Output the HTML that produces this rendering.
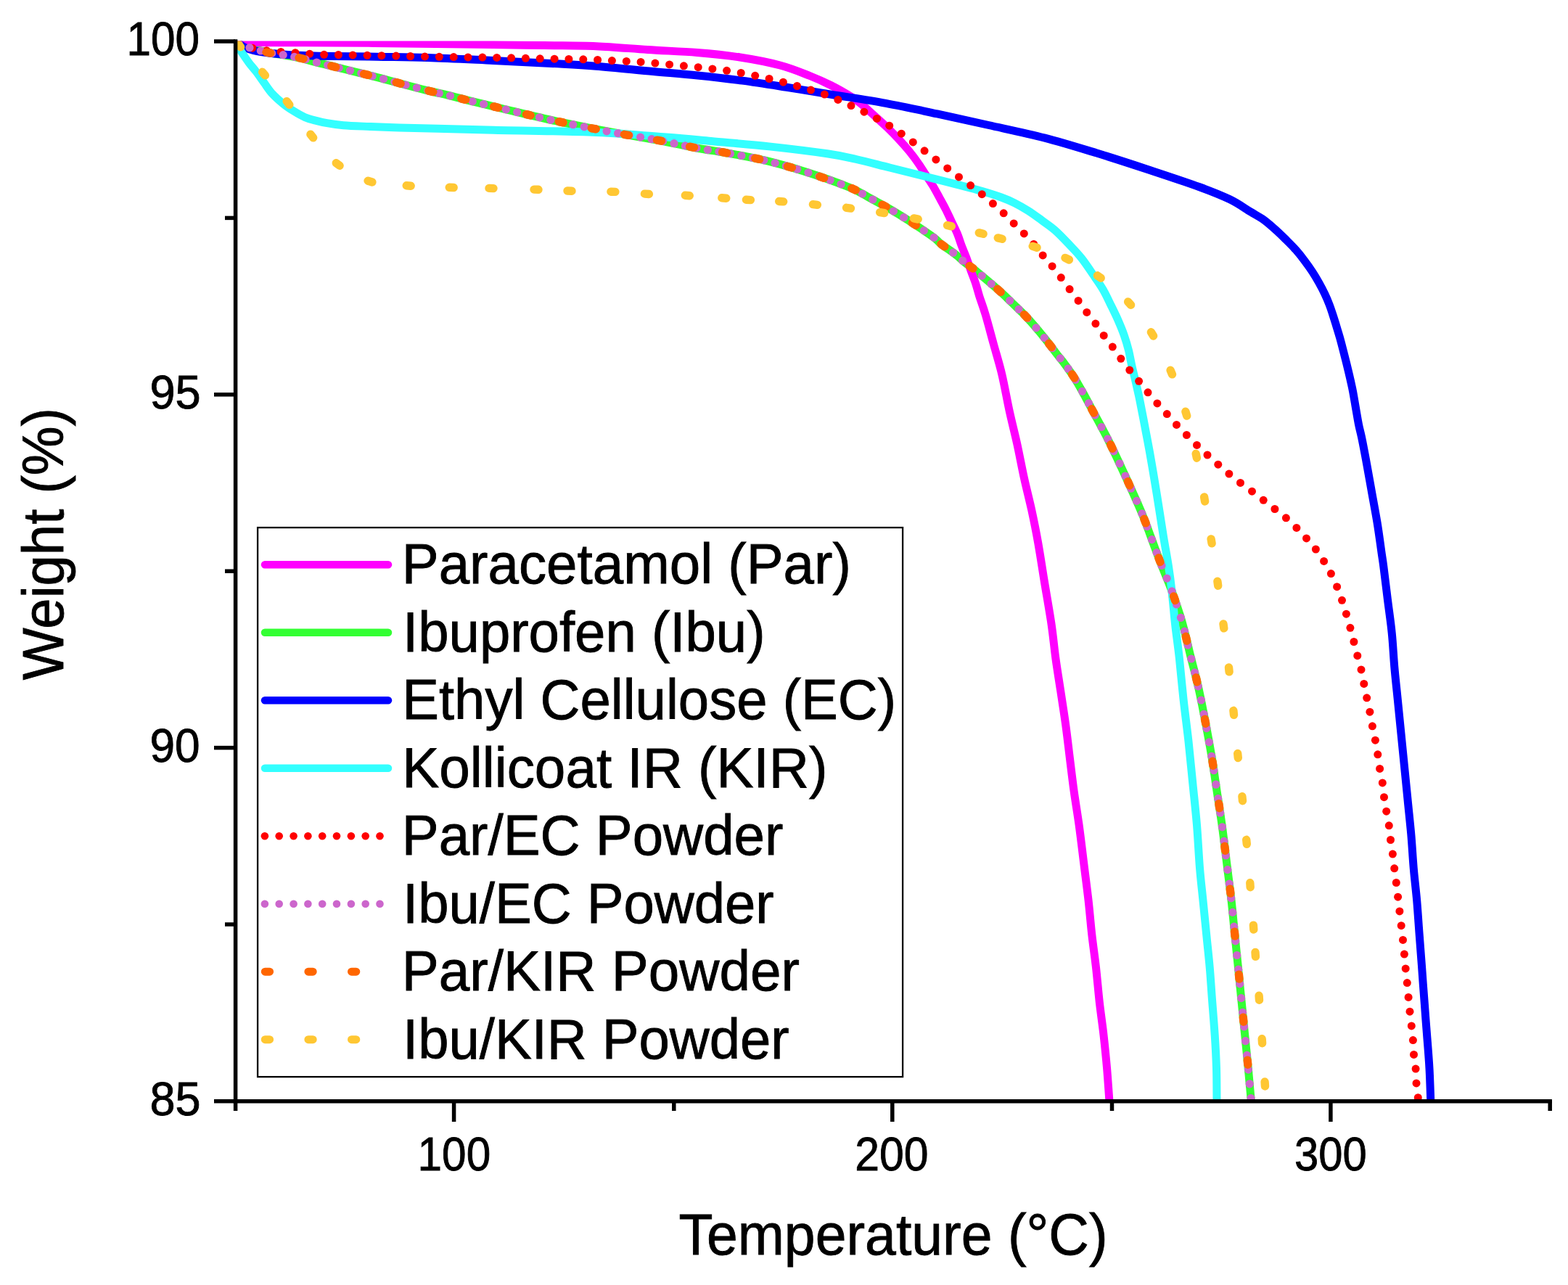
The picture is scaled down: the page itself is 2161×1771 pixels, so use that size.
<!DOCTYPE html>
<html><head><meta charset="utf-8"><style>
html,body{margin:0;padding:0;background:#fff;}
svg{display:block;}
</style></head><body>
<svg width="2161" height="1771" viewBox="0 0 2161 1771">
<rect width="2161" height="1771" fill="#fff"/>
<clipPath id="pc"><rect x="324" y="56.6" width="1815" height="1461"/></clipPath>
<g clip-path="url(#pc)" fill="none" stroke-width="11" stroke-linejoin="round">
<path d="M329.0 60.0C331.7 61.0 338.2 63.9 345.0 66.0C351.8 68.1 361.7 70.8 370.0 72.5C378.3 74.2 387.4 75.2 395.0 76.5C402.6 77.8 409.1 79.0 415.6 80.5C422.1 82.0 426.3 83.5 434.0 85.4C441.7 87.4 451.5 89.7 461.6 92.2C471.8 94.7 484.2 97.7 494.9 100.3C505.6 102.9 516.4 105.6 526.0 108.1C535.6 110.6 541.9 112.5 552.3 115.2C562.7 118.0 577.4 121.9 588.4 124.6C599.4 127.3 608.8 129.2 618.1 131.4C627.4 133.7 634.0 135.6 644.3 138.1C654.6 140.6 668.9 144.1 679.7 146.7C690.5 149.3 698.8 151.3 709.0 153.7C719.2 156.1 730.6 158.8 740.9 161.2C751.2 163.5 758.3 165.2 770.7 167.8C783.1 170.4 800.0 173.8 815.3 176.8C830.6 179.8 847.0 182.9 862.7 185.7C878.4 188.5 893.3 190.8 909.5 193.8C925.7 196.9 944.9 201.2 960.0 204.0C975.1 206.8 983.9 207.6 1000.0 210.5C1016.1 213.4 1037.8 217.1 1056.7 221.7C1075.6 226.2 1094.4 231.8 1113.3 237.8C1132.2 243.9 1156.2 252.4 1170.0 258.0C1183.8 263.6 1186.6 266.2 1196.1 271.3C1205.6 276.4 1217.8 283.1 1227.2 288.6C1236.6 294.1 1242.8 297.9 1252.6 304.2C1262.4 310.5 1278.5 321.2 1286.0 326.6C1293.5 332.0 1292.3 332.7 1297.3 336.6C1302.3 340.5 1310.4 345.6 1315.9 349.9C1321.5 354.2 1326.3 359.0 1330.6 362.5C1334.9 366.0 1336.8 366.6 1341.9 370.7C1347.0 374.8 1354.5 381.2 1361.1 386.8C1367.7 392.4 1375.8 399.4 1381.3 404.4C1386.8 409.4 1389.7 412.5 1394.3 416.9C1398.9 421.3 1404.7 426.8 1408.8 430.9C1412.9 434.9 1414.8 436.9 1418.7 441.2C1422.6 445.5 1427.7 451.5 1432.1 456.8C1436.5 462.1 1440.8 467.4 1445.1 472.9C1449.4 478.4 1454.3 485.1 1458.1 490.0C1461.9 494.9 1464.1 497.2 1467.9 502.4C1471.7 507.6 1476.7 514.5 1480.9 521.1C1485.1 527.7 1488.9 534.7 1493.0 542.0C1497.1 549.3 1499.4 554.0 1505.3 565.0C1511.2 576.0 1520.6 592.9 1528.3 608.2C1536.0 623.6 1543.7 640.3 1551.4 657.1C1559.1 673.9 1567.7 692.7 1574.4 709.0C1581.1 725.3 1587.2 743.3 1591.7 755.1C1596.2 766.9 1597.3 770.1 1601.2 780.0C1605.1 789.9 1610.4 801.9 1615.0 814.6C1619.6 827.3 1624.6 841.4 1628.8 856.0C1633.0 870.6 1636.5 886.7 1640.3 902.1C1644.1 917.5 1648.3 932.8 1651.8 948.2C1655.3 963.6 1658.0 978.2 1661.1 994.3C1664.2 1010.4 1667.6 1028.9 1670.3 1045.0C1673.0 1061.1 1674.9 1075.8 1677.2 1091.1C1679.5 1106.4 1681.7 1119.6 1684.1 1137.1C1686.5 1154.6 1689.3 1178.6 1691.5 1196.1C1693.7 1213.6 1695.5 1226.8 1697.2 1242.2C1698.9 1257.6 1700.2 1272.9 1701.8 1288.2C1703.3 1303.5 1705.0 1318.9 1706.5 1334.3C1708.0 1349.7 1709.6 1365.0 1711.1 1380.4C1712.6 1395.8 1714.2 1411.1 1715.7 1426.5C1717.2 1441.9 1718.8 1456.2 1720.3 1472.6C1721.8 1489.0 1724.2 1516.3 1725.0 1525.0" stroke="#33ff33"/>
<path d="M329.0 58.4C344.2 58.5 389.0 58.6 420.0 58.8C451.0 59.0 485.0 59.1 515.0 59.4C545.0 59.7 572.5 60.2 600.0 60.6C627.5 61.0 655.0 61.2 680.0 61.5C705.0 61.8 726.4 62.2 750.0 62.6C773.6 63.0 797.9 62.7 821.6 63.7C845.4 64.7 869.3 67.0 892.5 68.5C915.7 70.0 939.8 70.8 961.0 72.5C982.2 74.2 1001.0 76.1 1020.0 79.0C1039.0 81.9 1059.0 85.8 1075.0 90.0C1091.0 94.2 1104.3 99.9 1116.0 104.5C1127.7 109.1 1135.6 112.8 1145.0 117.5C1154.4 122.2 1165.7 128.8 1172.5 133.0C1179.3 137.2 1180.8 138.2 1186.0 142.5C1191.2 146.8 1197.8 152.9 1204.0 158.5C1210.2 164.1 1217.4 170.5 1223.2 176.1C1229.0 181.7 1234.0 186.9 1239.0 192.3C1244.0 197.7 1248.7 203.0 1253.1 208.4C1257.5 213.8 1261.5 219.1 1265.2 224.5C1269.0 229.9 1272.1 235.2 1275.6 240.6C1279.1 246.0 1282.9 251.4 1286.1 256.8C1289.3 262.2 1292.1 267.6 1295.0 272.9C1297.9 278.2 1300.7 283.2 1303.4 288.5C1306.1 293.8 1308.4 299.0 1311.1 304.6C1313.8 310.2 1316.9 316.1 1319.3 321.9C1321.7 327.6 1323.2 333.4 1325.4 339.1C1327.6 344.9 1330.2 350.6 1332.3 356.4C1334.4 362.2 1336.2 367.9 1338.3 373.7C1340.4 379.5 1342.9 385.4 1344.8 391.2C1346.7 397.0 1347.6 401.3 1349.8 408.3C1352.0 415.3 1354.7 422.0 1358.0 433.0C1361.3 444.0 1365.6 460.6 1369.4 474.4C1373.2 488.2 1377.1 500.3 1380.8 515.9C1384.5 531.5 1388.0 552.0 1391.5 567.9C1395.0 583.8 1398.2 595.8 1401.6 611.1C1405.0 626.5 1408.3 644.6 1411.7 660.0C1415.1 675.4 1418.7 688.8 1421.8 703.2C1424.9 717.6 1427.5 730.3 1430.4 746.4C1433.3 762.5 1436.0 781.0 1439.1 800.0C1442.2 819.0 1446.5 842.8 1449.1 860.6C1451.7 878.4 1452.7 891.3 1454.8 906.7C1456.9 922.1 1459.5 937.4 1461.8 952.8C1464.1 968.2 1466.6 983.5 1468.7 998.9C1470.8 1014.3 1472.5 1029.6 1474.4 1045.0C1476.3 1060.4 1478.1 1075.8 1480.2 1091.1C1482.3 1106.4 1484.7 1119.6 1487.1 1137.1C1489.5 1154.6 1492.3 1178.6 1494.5 1196.1C1496.7 1213.6 1498.5 1226.8 1500.2 1242.2C1501.9 1257.6 1503.1 1272.9 1504.8 1288.2C1506.5 1303.5 1508.9 1318.9 1510.6 1334.3C1512.3 1349.7 1513.5 1365.0 1515.2 1380.4C1516.9 1395.8 1519.3 1411.1 1521.0 1426.5C1522.7 1441.9 1524.2 1456.2 1525.6 1472.6C1527.0 1489.0 1528.8 1516.3 1529.5 1525.0" stroke="#ff00ff"/>
<path d="M329.0 60.0C330.8 61.1 334.8 64.6 340.0 66.5C345.2 68.4 351.7 70.1 360.0 71.5C368.3 72.9 376.7 74.0 390.0 75.0C403.3 76.0 418.3 76.7 440.0 77.2C461.7 77.7 495.0 77.8 520.0 78.2C545.0 78.6 563.3 78.5 590.0 79.4C616.7 80.3 651.7 82.1 680.0 83.4C708.3 84.8 736.4 86.2 760.0 87.5C783.6 88.8 798.3 89.4 821.6 91.2C844.9 93.0 876.7 96.4 900.0 98.5C923.3 100.6 940.9 101.9 961.4 104.0C981.9 106.1 1002.3 108.4 1022.8 111.1C1043.2 113.8 1063.6 117.1 1084.1 120.3C1104.5 123.5 1122.7 126.5 1145.5 130.2C1168.3 133.9 1196.5 137.9 1220.8 142.4C1245.1 146.9 1268.0 151.9 1291.6 156.9C1315.2 161.9 1337.8 167.0 1362.5 172.5C1387.2 178.0 1415.3 183.7 1440.0 190.1C1464.7 196.5 1487.2 203.6 1510.8 210.8C1534.4 218.0 1558.0 225.7 1581.6 233.5C1605.2 241.3 1633.6 250.6 1652.5 257.5C1671.4 264.4 1683.2 269.1 1695.0 274.8C1706.8 280.5 1715.8 287.3 1723.3 291.8C1730.8 296.3 1734.6 298.0 1740.0 301.8C1745.4 305.6 1750.5 310.0 1755.7 314.6C1761.0 319.2 1766.4 324.4 1771.5 329.5C1776.6 334.6 1781.9 339.8 1786.4 344.9C1790.9 350.0 1794.7 354.9 1798.4 359.9C1802.2 364.9 1805.7 369.9 1808.9 374.9C1812.2 379.9 1815.1 384.9 1817.9 389.9C1820.7 394.9 1823.3 399.9 1825.7 404.9C1828.1 409.9 1830.2 414.9 1832.1 419.9C1834.0 424.9 1835.6 429.8 1837.2 434.8C1838.8 439.8 1840.4 444.8 1841.9 449.8C1843.4 454.8 1845.0 459.8 1846.4 464.8C1847.8 469.8 1849.1 474.8 1850.4 479.8C1851.7 484.8 1853.0 489.8 1854.2 494.8C1855.5 499.8 1856.7 504.7 1857.9 509.7C1859.1 514.7 1860.3 519.7 1861.4 524.7C1862.5 529.7 1863.5 533.8 1864.6 539.7C1865.7 545.6 1866.8 552.5 1868.1 560.0C1869.4 567.5 1871.1 577.9 1872.5 585.0C1873.9 592.1 1874.6 593.2 1876.5 602.4C1878.4 611.5 1881.3 626.9 1883.7 639.9C1886.1 652.9 1888.5 666.8 1890.9 680.2C1893.3 693.6 1895.9 707.1 1898.1 720.5C1900.3 733.9 1902.5 750.9 1903.9 760.8C1905.3 770.7 1905.3 769.1 1906.7 780.0C1908.1 790.9 1910.5 810.7 1912.4 826.1C1914.3 841.5 1916.7 856.9 1918.2 872.2C1919.8 887.6 1920.4 902.9 1921.7 918.2C1923.0 933.6 1924.8 948.9 1926.3 964.3C1927.8 979.7 1929.4 995.0 1930.9 1010.4C1932.4 1025.8 1934.0 1041.1 1935.5 1056.5C1937.0 1071.9 1938.6 1087.2 1940.1 1102.6C1941.6 1118.0 1943.3 1133.1 1944.7 1148.7C1946.1 1164.3 1946.9 1180.5 1948.2 1196.1C1949.5 1211.7 1951.5 1226.8 1952.8 1242.2C1954.1 1257.6 1955.0 1272.9 1956.2 1288.2C1957.4 1303.5 1958.6 1318.9 1959.7 1334.3C1960.8 1349.7 1961.9 1365.0 1963.1 1380.4C1964.2 1395.8 1965.4 1411.1 1966.6 1426.5C1967.8 1441.9 1969.1 1456.2 1970.0 1472.6C1970.9 1489.0 1971.7 1516.3 1972.0 1525.0" stroke="#0000ff"/>
<path d="M327.0 62.0C328.1 63.9 331.1 69.1 333.9 73.3C336.7 77.5 340.5 83.0 343.6 87.2C346.8 91.4 349.4 94.1 352.8 98.5C356.2 102.9 360.1 108.7 363.8 113.8C367.5 118.9 370.7 124.2 375.1 129.0C379.5 133.8 385.2 138.8 390.2 142.9C395.2 147.0 400.3 150.3 405.3 153.4C410.3 156.5 415.4 159.5 420.4 161.7C425.4 163.8 430.5 165.0 435.5 166.3C440.5 167.6 444.3 168.6 450.6 169.7C456.9 170.8 463.2 171.9 473.3 172.7C483.4 173.5 498.2 174.0 511.0 174.6C523.8 175.2 534.6 175.6 550.0 176.0C565.4 176.4 581.6 176.8 603.3 177.3C625.0 177.8 643.6 178.3 680.0 179.2C716.4 180.0 781.9 180.8 821.6 182.4C861.3 184.0 891.6 187.0 918.0 189.0C944.4 191.0 956.3 192.3 980.0 194.5C1003.7 196.7 1033.3 199.0 1060.0 201.9C1086.7 204.8 1120.0 208.9 1140.0 211.8C1160.0 214.7 1165.7 216.3 1180.0 219.5C1194.3 222.7 1210.7 227.2 1226.1 231.0C1241.5 234.8 1256.8 238.7 1272.2 242.5C1287.6 246.3 1304.8 250.6 1318.2 254.1C1331.6 257.6 1342.5 260.3 1352.8 263.3C1363.1 266.3 1372.4 269.2 1380.0 272.0C1387.6 274.8 1392.2 276.7 1398.4 279.8C1404.6 282.9 1410.8 286.5 1416.9 290.4C1423.1 294.3 1429.2 298.9 1435.3 303.3C1441.4 307.8 1447.5 311.7 1453.7 317.1C1459.9 322.5 1466.1 329.1 1472.2 335.6C1478.3 342.1 1484.5 348.1 1490.6 355.9C1496.7 363.6 1504.0 374.8 1509.0 382.1C1514.0 389.5 1517.0 393.6 1520.7 400.0C1524.4 406.4 1527.7 413.8 1531.1 420.7C1534.5 427.6 1538.0 434.6 1541.0 441.5C1544.0 448.4 1546.9 455.3 1549.3 462.2C1551.7 469.1 1553.8 476.1 1555.5 483.0C1557.2 489.9 1558.2 496.8 1559.8 503.7C1561.3 510.6 1563.2 517.6 1564.8 524.5C1566.4 531.4 1568.0 538.3 1569.5 545.2C1571.0 552.1 1572.3 559.1 1573.6 565.9C1574.9 572.7 1575.5 575.1 1577.5 586.0C1579.5 596.9 1583.1 615.0 1585.9 631.2C1588.8 647.4 1591.7 665.3 1594.6 683.1C1597.5 700.9 1600.6 721.6 1603.2 737.8C1605.8 753.9 1608.4 767.2 1610.4 780.0C1612.4 792.8 1613.5 801.2 1615.0 814.6C1616.5 828.0 1617.9 845.2 1619.6 860.6C1621.3 876.0 1623.4 889.4 1625.3 906.7C1627.2 924.0 1629.0 945.1 1631.1 964.3C1633.2 983.5 1635.9 1002.7 1638.0 1021.9C1640.1 1041.1 1641.9 1060.3 1643.8 1079.5C1645.7 1098.7 1647.9 1117.7 1649.5 1137.1C1651.1 1156.5 1652.1 1178.6 1653.5 1196.1C1654.9 1213.6 1656.6 1226.8 1658.1 1242.2C1659.6 1257.6 1661.2 1272.9 1662.7 1288.2C1664.2 1303.5 1666.0 1318.9 1667.3 1334.3C1668.6 1349.7 1669.5 1365.0 1670.7 1380.4C1671.9 1395.8 1673.2 1411.1 1674.2 1426.5C1675.2 1441.9 1676.0 1456.2 1676.5 1472.6C1677.0 1489.0 1676.9 1516.3 1677.0 1525.0" stroke="#33ffff"/>
</g>
<g clip-path="url(#pc)">
<g fill="#ff0000"><circle cx="329.0" cy="60.0" r="5.5"/><circle cx="347.8" cy="66.2" r="5.5"/><circle cx="367.4" cy="69.7" r="5.5"/><circle cx="387.1" cy="71.4" r="5.5"/><circle cx="407.0" cy="72.7" r="5.5"/><circle cx="426.7" cy="74.2" r="5.5"/><circle cx="446.6" cy="75.3" r="5.5"/><circle cx="466.4" cy="75.5" r="5.5"/><circle cx="486.2" cy="75.9" r="5.5"/><circle cx="506.1" cy="76.3" r="5.5"/><circle cx="525.9" cy="76.7" r="5.5"/><circle cx="545.8" cy="77.1" r="5.5"/><circle cx="565.6" cy="77.5" r="5.5"/><circle cx="585.5" cy="77.9" r="5.5"/><circle cx="605.3" cy="78.3" r="5.5"/><circle cx="625.2" cy="78.6" r="5.5"/><circle cx="645.0" cy="78.9" r="5.5"/><circle cx="664.9" cy="79.1" r="5.5"/><circle cx="684.7" cy="79.4" r="5.5"/><circle cx="704.6" cy="79.8" r="5.5"/><circle cx="724.4" cy="80.3" r="5.5"/><circle cx="744.2" cy="80.8" r="5.5"/><circle cx="764.1" cy="81.2" r="5.5"/><circle cx="783.9" cy="81.5" r="5.5"/><circle cx="803.8" cy="81.8" r="5.5"/><circle cx="823.6" cy="82.5" r="5.5"/><circle cx="843.4" cy="83.6" r="5.5"/><circle cx="863.3" cy="84.4" r="5.5"/><circle cx="883.1" cy="85.4" r="5.5"/><circle cx="902.9" cy="87.1" r="5.5"/><circle cx="922.6" cy="88.9" r="5.5"/><circle cx="942.4" cy="90.8" r="5.5"/><circle cx="962.2" cy="92.7" r="5.5"/><circle cx="981.9" cy="94.9" r="5.5"/><circle cx="1001.6" cy="97.3" r="5.5"/><circle cx="1021.2" cy="100.5" r="5.5"/><circle cx="1040.7" cy="104.3" r="5.5"/><circle cx="1060.1" cy="108.5" r="5.5"/><circle cx="1079.4" cy="113.2" r="5.5"/><circle cx="1098.5" cy="118.5" r="5.5"/><circle cx="1117.5" cy="124.1" r="5.5"/><circle cx="1136.4" cy="130.1" r="5.5"/><circle cx="1154.9" cy="137.4" r="5.5"/><circle cx="1173.0" cy="145.6" r="5.5"/><circle cx="1190.9" cy="154.2" r="5.5"/><circle cx="1208.5" cy="163.4" r="5.5"/><circle cx="1225.7" cy="173.2" r="5.5"/><circle cx="1242.3" cy="184.2" r="5.5"/><circle cx="1258.3" cy="195.9" r="5.5"/><circle cx="1274.1" cy="207.8" r="5.5"/><circle cx="1289.9" cy="219.9" r="5.5"/><circle cx="1305.7" cy="231.9" r="5.5"/><circle cx="1321.5" cy="243.9" r="5.5"/><circle cx="1337.6" cy="255.6" r="5.5"/><circle cx="1353.3" cy="267.7" r="5.5"/><circle cx="1368.4" cy="280.6" r="5.5"/><circle cx="1383.2" cy="293.8" r="5.5"/><circle cx="1397.2" cy="307.9" r="5.5"/><circle cx="1411.3" cy="321.9" r="5.5"/><circle cx="1424.7" cy="336.5" r="5.5"/><circle cx="1437.2" cy="351.9" r="5.5"/><circle cx="1450.1" cy="366.9" r="5.5"/><circle cx="1462.3" cy="382.6" r="5.5"/><circle cx="1474.1" cy="398.6" r="5.5"/><circle cx="1486.1" cy="414.4" r="5.5"/><circle cx="1497.8" cy="430.4" r="5.5"/><circle cx="1509.9" cy="446.1" r="5.5"/><circle cx="1521.2" cy="462.4" r="5.5"/><circle cx="1533.3" cy="478.1" r="5.5"/><circle cx="1544.8" cy="494.3" r="5.5"/><circle cx="1556.8" cy="510.1" r="5.5"/><circle cx="1569.6" cy="525.3" r="5.5"/><circle cx="1582.0" cy="540.8" r="5.5"/><circle cx="1594.9" cy="555.9" r="5.5"/><circle cx="1608.3" cy="570.6" r="5.5"/><circle cx="1621.5" cy="585.4" r="5.5"/><circle cx="1635.4" cy="599.5" r="5.5"/><circle cx="1649.5" cy="613.4" r="5.5"/><circle cx="1664.0" cy="627.0" r="5.5"/><circle cx="1678.8" cy="640.2" r="5.5"/><circle cx="1693.9" cy="653.1" r="5.5"/><circle cx="1709.5" cy="665.4" r="5.5"/><circle cx="1725.5" cy="677.2" r="5.5"/><circle cx="1741.2" cy="689.3" r="5.5"/><circle cx="1756.9" cy="701.5" r="5.5"/><circle cx="1772.4" cy="713.8" r="5.5"/><circle cx="1786.9" cy="727.4" r="5.5"/><circle cx="1800.5" cy="741.9" r="5.5"/><circle cx="1813.4" cy="757.0" r="5.5"/><circle cx="1824.6" cy="773.4" r="5.5"/><circle cx="1834.4" cy="790.6" r="5.5"/><circle cx="1842.6" cy="808.7" r="5.5"/><circle cx="1849.5" cy="827.3" r="5.5"/><circle cx="1855.4" cy="846.2" r="5.5"/><circle cx="1860.9" cy="865.3" r="5.5"/><circle cx="1865.9" cy="884.5" r="5.5"/><circle cx="1870.8" cy="903.7" r="5.5"/><circle cx="1876.0" cy="922.9" r="5.5"/><circle cx="1879.8" cy="942.4" r="5.5"/><circle cx="1883.7" cy="961.8" r="5.5"/><circle cx="1887.9" cy="981.2" r="5.5"/><circle cx="1891.4" cy="1000.8" r="5.5"/><circle cx="1895.4" cy="1020.2" r="5.5"/><circle cx="1898.8" cy="1039.8" r="5.5"/><circle cx="1901.6" cy="1059.4" r="5.5"/><circle cx="1905.3" cy="1078.9" r="5.5"/><circle cx="1907.5" cy="1098.7" r="5.5"/><circle cx="1910.7" cy="1118.2" r="5.5"/><circle cx="1914.3" cy="1137.8" r="5.5"/><circle cx="1916.5" cy="1157.5" r="5.5"/><circle cx="1919.4" cy="1177.1" r="5.5"/><circle cx="1921.7" cy="1196.8" r="5.5"/><circle cx="1924.3" cy="1216.5" r="5.5"/><circle cx="1926.6" cy="1236.2" r="5.5"/><circle cx="1928.9" cy="1255.9" r="5.5"/><circle cx="1931.2" cy="1275.7" r="5.5"/><circle cx="1933.5" cy="1295.4" r="5.5"/><circle cx="1935.4" cy="1315.1" r="5.5"/><circle cx="1937.2" cy="1334.9" r="5.5"/><circle cx="1939.3" cy="1354.6" r="5.5"/><circle cx="1941.1" cy="1374.4" r="5.5"/><circle cx="1943.0" cy="1394.2" r="5.5"/><circle cx="1945.3" cy="1413.9" r="5.5"/><circle cx="1947.4" cy="1433.6" r="5.5"/><circle cx="1948.5" cy="1453.4" r="5.5"/><circle cx="1951.1" cy="1473.1" r="5.5"/><circle cx="1952.0" cy="1492.9" r="5.5"/><circle cx="1954.3" cy="1512.7" r="5.5"/></g>
<g fill="#cc66cc"><circle cx="329.0" cy="60.0" r="5.6"/><circle cx="344.0" cy="65.7" r="5.6"/><circle cx="359.3" cy="70.0" r="5.6"/><circle cx="374.7" cy="73.4" r="5.6"/><circle cx="390.2" cy="75.7" r="5.6"/><circle cx="405.7" cy="78.4" r="5.6"/><circle cx="421.1" cy="81.9" r="5.6"/><circle cx="436.4" cy="86.0" r="5.6"/><circle cx="451.7" cy="89.8" r="5.6"/><circle cx="467.1" cy="93.5" r="5.6"/><circle cx="482.5" cy="97.3" r="5.6"/><circle cx="497.8" cy="101.0" r="5.6"/><circle cx="513.2" cy="104.8" r="5.6"/><circle cx="528.5" cy="108.8" r="5.6"/><circle cx="543.8" cy="112.9" r="5.6"/><circle cx="559.1" cy="117.0" r="5.6"/><circle cx="574.4" cy="121.0" r="5.6"/><circle cx="589.8" cy="124.9" r="5.6"/><circle cx="605.2" cy="128.5" r="5.6"/><circle cx="620.5" cy="132.0" r="5.6"/><circle cx="635.9" cy="136.0" r="5.6"/><circle cx="651.2" cy="139.8" r="5.6"/><circle cx="666.6" cy="143.5" r="5.6"/><circle cx="682.0" cy="147.2" r="5.6"/><circle cx="697.3" cy="150.9" r="5.6"/><circle cx="712.7" cy="154.6" r="5.6"/><circle cx="728.1" cy="158.2" r="5.6"/><circle cx="743.5" cy="161.8" r="5.6"/><circle cx="758.9" cy="165.3" r="5.6"/><circle cx="774.3" cy="168.5" r="5.6"/><circle cx="789.7" cy="171.7" r="5.6"/><circle cx="805.2" cy="174.8" r="5.6"/><circle cx="820.6" cy="177.8" r="5.6"/><circle cx="836.1" cy="180.8" r="5.6"/><circle cx="851.6" cy="183.7" r="5.6"/><circle cx="867.1" cy="186.5" r="5.6"/><circle cx="882.6" cy="189.1" r="5.6"/><circle cx="898.1" cy="191.7" r="5.6"/><circle cx="913.6" cy="194.6" r="5.6"/><circle cx="929.0" cy="197.7" r="5.6"/><circle cx="944.4" cy="200.9" r="5.6"/><circle cx="959.9" cy="204.0" r="5.6"/><circle cx="975.4" cy="206.6" r="5.6"/><circle cx="990.9" cy="208.9" r="5.6"/><circle cx="1006.4" cy="211.7" r="5.6"/><circle cx="1021.9" cy="214.5" r="5.6"/><circle cx="1037.4" cy="217.5" r="5.6"/><circle cx="1052.8" cy="220.8" r="5.6"/><circle cx="1068.1" cy="224.6" r="5.6"/><circle cx="1083.4" cy="228.7" r="5.6"/><circle cx="1098.7" cy="233.2" r="5.6"/><circle cx="1113.9" cy="238.0" r="5.6"/><circle cx="1129.0" cy="243.0" r="5.6"/><circle cx="1144.1" cy="248.3" r="5.6"/><circle cx="1159.1" cy="253.8" r="5.6"/><circle cx="1174.0" cy="259.7" r="5.6"/><circle cx="1188.5" cy="267.0" r="5.6"/><circle cx="1202.9" cy="275.0" r="5.6"/><circle cx="1217.2" cy="282.9" r="5.6"/><circle cx="1231.5" cy="291.1" r="5.6"/><circle cx="1245.6" cy="299.7" r="5.6"/><circle cx="1259.5" cy="308.7" r="5.6"/><circle cx="1273.4" cy="317.9" r="5.6"/><circle cx="1287.1" cy="327.4" r="5.6"/><circle cx="1300.0" cy="338.6" r="5.6"/><circle cx="1313.7" cy="348.2" r="5.6"/><circle cx="1326.7" cy="359.2" r="5.6"/><circle cx="1340.1" cy="369.3" r="5.6"/><circle cx="1353.3" cy="380.1" r="5.6"/><circle cx="1366.2" cy="391.2" r="5.6"/><circle cx="1379.1" cy="402.4" r="5.6"/><circle cx="1391.7" cy="414.3" r="5.6"/><circle cx="1404.1" cy="426.3" r="5.6"/><circle cx="1416.4" cy="438.6" r="5.6"/><circle cx="1428.0" cy="451.9" r="5.6"/><circle cx="1439.3" cy="465.6" r="5.6"/><circle cx="1450.3" cy="479.7" r="5.6"/><circle cx="1461.2" cy="493.9" r="5.6"/><circle cx="1472.1" cy="508.2" r="5.6"/><circle cx="1482.3" cy="523.3" r="5.6"/><circle cx="1491.5" cy="539.3" r="5.6"/><circle cx="1500.4" cy="555.7" r="5.6"/><circle cx="1509.1" cy="572.1" r="5.6"/><circle cx="1518.0" cy="588.5" r="5.6"/><circle cx="1526.7" cy="605.0" r="5.6"/><circle cx="1535.0" cy="621.8" r="5.6"/><circle cx="1543.0" cy="638.8" r="5.6"/><circle cx="1550.9" cy="656.0" r="5.6"/><circle cx="1558.7" cy="673.2" r="5.6"/><circle cx="1566.5" cy="690.4" r="5.6"/><circle cx="1573.9" cy="707.9" r="5.6"/><circle cx="1580.9" cy="725.6" r="5.6"/><circle cx="1587.5" cy="743.6" r="5.6"/><circle cx="1594.1" cy="761.6" r="5.6"/><circle cx="1601.0" cy="779.4" r="5.6"/><circle cx="1608.2" cy="797.1" r="5.6"/><circle cx="1615.1" cy="814.9" r="5.6"/><circle cx="1621.5" cy="833.0" r="5.6"/><circle cx="1627.4" cy="851.3" r="5.6"/><circle cx="1632.6" cy="870.1" r="5.6"/><circle cx="1637.1" cy="889.1" r="5.6"/><circle cx="1641.8" cy="908.0" r="5.6"/><circle cx="1646.6" cy="926.9" r="5.6"/><circle cx="1651.3" cy="945.9" r="5.6"/><circle cx="1655.4" cy="965.0" r="5.6"/><circle cx="1659.2" cy="984.3" r="5.6"/><circle cx="1662.9" cy="1003.6" r="5.6"/><circle cx="1666.4" cy="1022.9" r="5.6"/><circle cx="1669.8" cy="1042.3" r="5.6"/><circle cx="1672.9" cy="1061.7" r="5.6"/><circle cx="1675.8" cy="1081.2" r="5.6"/><circle cx="1678.7" cy="1100.7" r="5.6"/><circle cx="1681.7" cy="1120.2" r="5.6"/><circle cx="1684.5" cy="1139.8" r="5.6"/><circle cx="1687.0" cy="1159.3" r="5.6"/><circle cx="1689.4" cy="1179.0" r="5.6"/><circle cx="1691.8" cy="1198.6" r="5.6"/><circle cx="1694.3" cy="1218.2" r="5.6"/><circle cx="1696.7" cy="1237.8" r="5.6"/><circle cx="1698.8" cy="1257.4" r="5.6"/><circle cx="1700.7" cy="1277.1" r="5.6"/><circle cx="1702.7" cy="1296.8" r="5.6"/><circle cx="1704.7" cy="1316.5" r="5.6"/><circle cx="1706.7" cy="1336.2" r="5.6"/><circle cx="1708.7" cy="1355.9" r="5.6"/><circle cx="1710.6" cy="1375.6" r="5.6"/><circle cx="1712.6" cy="1395.3" r="5.6"/><circle cx="1714.6" cy="1415.0" r="5.6"/><circle cx="1716.5" cy="1434.7" r="5.6"/><circle cx="1718.5" cy="1454.4" r="5.6"/><circle cx="1720.4" cy="1474.1" r="5.6"/><circle cx="1722.2" cy="1493.8" r="5.6"/><circle cx="1724.0" cy="1513.5" r="5.6"/></g>
<path d="M367.0 71.9L372.8 73.1M412.1 79.7L418.0 81.0M456.8 91.0L462.7 92.5M501.6 102.0L507.4 103.4M546.3 113.6L552.1 115.2M591.0 125.2L596.8 126.6M635.8 135.9L641.6 137.4M680.6 146.9L686.4 148.3M725.4 157.6L731.2 159.0M770.3 167.7L776.1 168.9M815.3 176.8L821.2 177.9M860.4 185.3L866.3 186.3M905.5 193.1L911.4 194.2M950.6 202.2L956.4 203.3M995.7 209.7L1001.6 210.8M1040.8 218.2L1046.7 219.4M1085.6 229.4L1091.4 231.0M1129.9 243.3L1135.6 245.3M1173.8 259.5L1179.2 262.0M1215.9 282.2L1221.2 285.1M1257.3 307.3L1262.3 310.5M1297.0 336.4L1301.8 339.9M1336.2 366.5L1341.1 370.0M1374.7 398.5L1379.2 402.5M1411.5 433.6L1415.7 437.9M1445.5 473.4L1449.2 478.2M1477.5 515.9L1480.8 520.9M1504.6 563.8L1507.5 569.1M1530.6 612.8L1533.2 618.2M1554.4 663.6L1556.8 669.0M1576.9 715.3L1579.1 720.9M1596.9 768.9L1599.0 774.5M1617.6 821.9L1619.6 827.5M1634.3 877.3L1635.7 883.1M1648.4 933.9L1649.8 939.8M1660.5 991.3L1661.7 997.2M1671.0 1049.3L1671.9 1055.2M1679.8 1107.7L1680.7 1113.7M1687.8 1166.4L1688.6 1172.3M1695.2 1225.1L1695.9 1231.1M1701.4 1284.1L1702.0 1290.1M1707.4 1343.2L1708.0 1349.1M1713.3 1402.2L1713.9 1408.2M1719.2 1461.2L1719.8 1467.2" stroke="#ff6600" stroke-width="11.4" stroke-linecap="round" fill="none"/>
<path d="M327.6 60.2L331.6 64.8M361.6 99.3L365.4 103.9M395.2 139.6L398.8 144.4M427.9 185.2L431.7 189.8M463.3 224.7L468.1 228.3M507.1 249.2L512.9 251.0M560.2 255.8L566.2 256.2M619.2 258.3L625.2 258.5M674.0 259.4L680.0 259.6M736.0 261.1L742.0 261.3M782.0 263.0L788.0 263.2M841.9 264.2L847.9 264.4M888.4 267.1L894.4 267.5M944.3 269.3L950.3 269.7M994.8 272.8L1000.8 273.2M1028.4 275.2L1034.4 275.6M1073.7 277.5L1079.7 277.9M1120.4 281.7L1126.4 282.3M1166.5 286.3L1172.5 287.1M1212.7 292.6L1218.7 293.6M1259.4 300.9L1265.2 302.1M1305.5 310.5L1311.3 311.9M1349.3 320.9L1355.1 322.3M1375.3 327.9L1381.1 329.3M1423.2 339.4L1429.0 341.2M1468.0 355.4L1473.4 358.0M1512.4 379.8L1517.2 383.2M1554.6 415.9L1558.6 420.3M1586.4 457.8L1589.6 463.0M1613.1 510.3L1615.5 515.9M1633.9 567.3L1635.7 573.1M1648.2 625.4L1649.4 631.2M1659.6 685.0L1660.6 691.0M1669.1 742.9L1670.1 748.9M1677.9 801.2L1678.7 807.2M1686.0 859.9L1686.8 865.9M1693.5 919.9L1694.1 925.9M1699.9 979.3L1700.5 985.3M1705.7 1038.5L1706.3 1044.5M1711.9 1097.7L1712.5 1103.7M1717.7 1157.3L1718.3 1163.3M1722.8 1216.8L1723.2 1222.8M1727.4 1275.1L1727.8 1281.1M1730.0 1312.4L1730.4 1318.4M1735.1 1372.3L1735.5 1378.3M1739.2 1431.8L1739.6 1437.8M1743.1 1491.0L1743.5 1497.0" stroke="#ffc733" stroke-width="11.4" stroke-linecap="round" fill="none"/>
</g>
<rect x="355.1" y="727.1" width="889" height="757" fill="#fff" stroke="#000" stroke-width="2.3"/>
<path d="M365 778.2H535" stroke="#ff00ff" stroke-width="10.5" stroke-linecap="round"/>
<path d="M365 871.7H535" stroke="#33ff33" stroke-width="10.5" stroke-linecap="round"/>
<path d="M365 965.2H535" stroke="#0000ff" stroke-width="10.5" stroke-linecap="round"/>
<path d="M365 1058.7H535" stroke="#33ffff" stroke-width="10.5" stroke-linecap="round"/>
<g fill="#ff0000"><circle cx="364.9" cy="1152.2" r="5.3"/><circle cx="384.7" cy="1152.2" r="5.3"/><circle cx="404.6" cy="1152.2" r="5.3"/><circle cx="424.4" cy="1152.2" r="5.3"/><circle cx="444.2" cy="1152.2" r="5.3"/><circle cx="464.0" cy="1152.2" r="5.3"/><circle cx="483.9" cy="1152.2" r="5.3"/><circle cx="503.7" cy="1152.2" r="5.3"/><circle cx="523.5" cy="1152.2" r="5.3"/></g>
<g fill="#cc66cc"><circle cx="364.9" cy="1245.7" r="5.3"/><circle cx="384.7" cy="1245.7" r="5.3"/><circle cx="404.6" cy="1245.7" r="5.3"/><circle cx="424.4" cy="1245.7" r="5.3"/><circle cx="444.2" cy="1245.7" r="5.3"/><circle cx="464.0" cy="1245.7" r="5.3"/><circle cx="483.9" cy="1245.7" r="5.3"/><circle cx="503.7" cy="1245.7" r="5.3"/><circle cx="523.5" cy="1245.7" r="5.3"/></g>
<path d="M365.3 1339.2H371.6M424.9 1339.2H431.2M484.5 1339.2H490.8" stroke="#ff6600" stroke-width="11" stroke-linecap="round"/>
<path d="M365.3 1432.7H371.6M424.9 1432.7H431.2M484.5 1432.7H490.8" stroke="#ffc733" stroke-width="11" stroke-linecap="round"/>
<g stroke="#000" stroke-width="5.5" fill="none">
<path d="M324.6 54.3V1520.5M321.9 1517.7H2138.9"/>
<path d="M295 57.0H324"/>
<path d="M295 543.8H324"/>
<path d="M295 1030.6H324"/>
<path d="M295 1517.7H324"/>
<path d="M310 300.4H324"/>
<path d="M310 787.2H324"/>
<path d="M310 1274.0H324"/>
<path d="M625.6 1517V1546"/>
<path d="M1229.8 1517V1546"/>
<path d="M1833.9 1517V1546"/>
<path d="M324.6 1517V1531"/>
<path d="M928.8 1517V1531"/>
<path d="M1532.5 1517V1531"/>
<path d="M2136.2 1517V1531"/>
</g>
<g style="font-family:&quot;Liberation Sans&quot;,Arial,sans-serif" fill="#000" stroke="#000" stroke-width="0.9">
<text id="y100" x="174.60" y="75.90" font-size="65.4" textLength="100.50" lengthAdjust="spacingAndGlyphs">100</text>
<text id="y95" x="206.50" y="563.20" font-size="65.4" textLength="70.23" lengthAdjust="spacingAndGlyphs">95</text>
<text id="y90" x="206.54" y="1050.00" font-size="65.4" textLength="69.17" lengthAdjust="spacingAndGlyphs">90</text>
<text id="y85" x="206.48" y="1536.80" font-size="65.4" textLength="70.07" lengthAdjust="spacingAndGlyphs">85</text>
<text id="x100" x="575.59" y="1613.40" font-size="65.4" textLength="100.59" lengthAdjust="spacingAndGlyphs">100</text>
<text id="x200" x="1178.24" y="1613.20" font-size="65.4" textLength="101.30" lengthAdjust="spacingAndGlyphs">200</text>
<text id="x300" x="1784.00" y="1613.20" font-size="65.4" textLength="99.58" lengthAdjust="spacingAndGlyphs">300</text>
<text id="xt" x="935.44" y="1729.30" font-size="79.5" textLength="591.15" lengthAdjust="spacingAndGlyphs">Temperature (°C)</text>
<text id="yt" transform="translate(87.10 0) rotate(-90)" x="-937.17" y="0" font-size="80.0" textLength="375.00" lengthAdjust="spacingAndGlyphs">Weight (%)</text>
<text id="leg0" x="553.78" y="804.00" font-size="78.6" textLength="619.09" lengthAdjust="spacingAndGlyphs">Paracetamol (Par)</text>
<text id="leg1" x="555.04" y="897.50" font-size="78.6" textLength="499.46" lengthAdjust="spacingAndGlyphs">Ibuprofen (Ibu)</text>
<text id="leg2" x="554.21" y="991.00" font-size="78.6" textLength="680.86" lengthAdjust="spacingAndGlyphs">Ethyl Cellulose (EC)</text>
<text id="leg3" x="554.18" y="1084.50" font-size="78.6" textLength="586.29" lengthAdjust="spacingAndGlyphs">Kollicoat IR (KIR)</text>
<text id="leg4" x="553.77" y="1178.00" font-size="78.6" textLength="525.66" lengthAdjust="spacingAndGlyphs">Par/EC Powder</text>
<text id="leg5" x="555.04" y="1271.50" font-size="78.6" textLength="511.60" lengthAdjust="spacingAndGlyphs">Ibu/EC Powder</text>
<text id="leg6" x="553.76" y="1365.00" font-size="78.6" textLength="548.28" lengthAdjust="spacingAndGlyphs">Par/KIR Powder</text>
<text id="leg7" x="555.05" y="1458.50" font-size="78.6" textLength="532.64" lengthAdjust="spacingAndGlyphs">Ibu/KIR Powder</text>
</g>
</svg>
</body></html>
